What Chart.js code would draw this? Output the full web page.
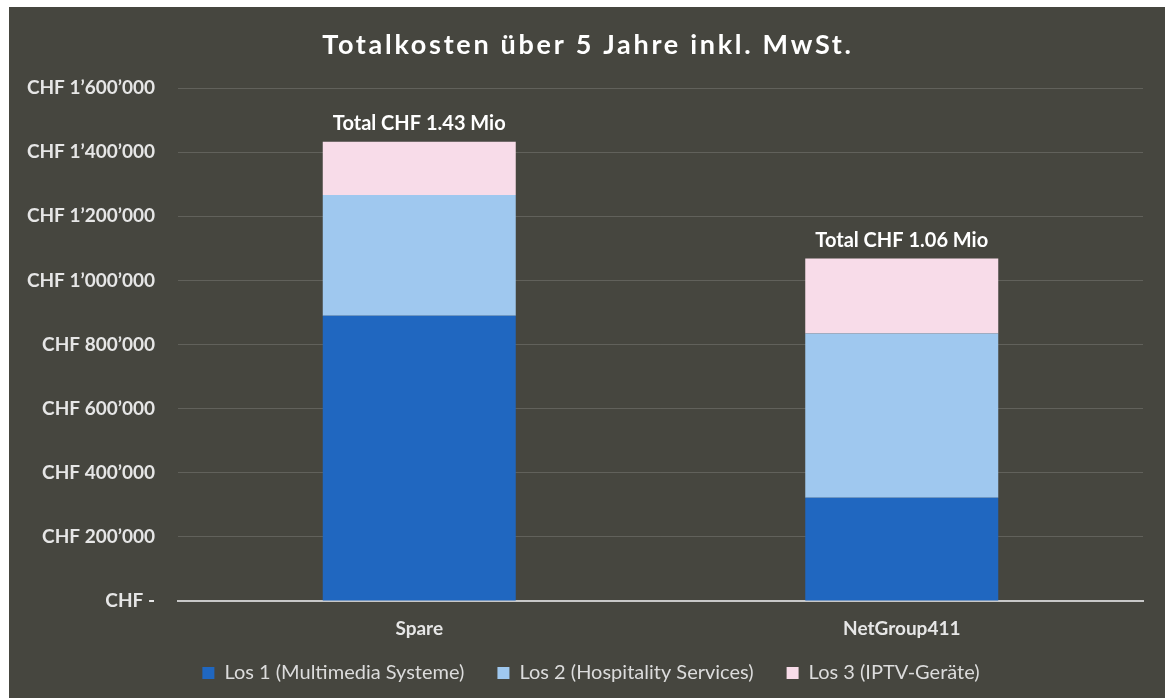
<!DOCTYPE html>
<html>
<head>
<meta charset="utf-8">
<script src="https://cdn.jsdelivr.net/npm/chart.js@4"></script>
<style>
  html, body { margin: 0; padding: 0; background: #ffffff; }
  #wrap { position: absolute; left: 9px; top: 7px; width: 1156px; height: 691px; background: #46463f; }
</style>
</head>
<body>
<div id="wrap"><canvas id="c"></canvas></div>
<script>
const chartTitle = 'Totalkosten über 5 Jahre inkl. MwSt.';
const categories = ['Spare', 'NetGroup411'];
const seriesNames = ['Los 1 (Multimedia Systeme)', 'Los 2 (Hospitality Services)', 'Los 3 (IPTV-Geräte)'];
const los1 = [890000, 322000];
const los2 = [376000, 512000];
const los3 = [166000, 234000];
const tickValues = [0, 200000, 400000, 600000, 800000, 1000000, 1200000, 1400000, 1600000];
const tickLabels = ['CHF -', 'CHF 200’000', 'CHF 400’000', 'CHF 600’000', 'CHF 800’000', 'CHF 1’000’000', 'CHF 1’200’000', 'CHF 1’400’000', 'CHF 1’600’000'];
const totalLabels = ['Total CHF 1.43 Mio', 'Total CHF 1.06 Mio'];

const FONT = 'Lato, "Open Sans", sans-serif';

const titlePlugin = {
  id: 'titlePlugin',
  afterDraw(chart) {
    const ctx = chart.ctx;
    ctx.save();
    ctx.font = 'bold 27px ' + FONT;
    ctx.fillStyle = '#ffffff';
    ctx.textAlign = 'center';
    ctx.textBaseline = 'alphabetic';
    try { ctx.letterSpacing = '2.7px'; } catch (e) {}
    ctx.fillText(chartTitle, chart.width / 2 + 1, 47);
    ctx.restore();
  }
};

const totalsPlugin = {
  id: 'totalsPlugin',
  afterDatasetsDraw(chart) {
    const ctx = chart.ctx;
    const x = chart.scales.x, y = chart.scales.y;
    ctx.save();
    ctx.font = 'bold 20px ' + FONT;
    ctx.fillStyle = '#ffffff';
    ctx.textAlign = 'center';
    ctx.textBaseline = 'alphabetic';
    categories.forEach((c, i) => {
      const total = los1[i] + los2[i] + los3[i];
      ctx.fillText(totalLabels[i], x.getPixelForValue(i), y.getPixelForValue(total) - 12);
    });
    ctx.restore();
  }
};

new Chart(document.getElementById('c'), {
  type: 'bar',
  data: {
    labels: categories,
    datasets: [
      { label: seriesNames[0], data: los1, backgroundColor: '#2067c0' },
      { label: seriesNames[1], data: los2, backgroundColor: '#9fc8ef' },
      { label: seriesNames[2], data: los3, backgroundColor: '#f8dce9' }
    ]
  },
  options: {
    responsive: true,
    maintainAspectRatio: false,
    animation: false,
    barPercentage: 0.4,
    categoryPercentage: 1.0,
    layout: { padding: { top: 81, right: 22, left: 30, bottom: 5 } },
    plugins: {
      title: { display: false },
      tooltip: { enabled: false },
      legend: {
        position: 'bottom',
        labels: {
          color: '#dcdcdc',
          font: { family: FONT, size: 20 },
          boxWidth: 12,
          boxHeight: 12,
          padding: 33
        }
      }
    },
    scales: {
      x: {
        stacked: true,
        afterFit(scale) {
          scale.height = 29;
          scale._computeLabelArea = () => undefined;
        },
        grid: { display: false },
        border: { display: true, color: '#c8c8c8', width: 2 },
        ticks: { color: '#e6e6e6', font: { family: FONT, size: 19, weight: 'bold' }, padding: 8 }
      },
      y: {
        stacked: true,
        min: 0,
        max: 1600000,
        afterFit(scale) {
          scale.width = 139;
          scale._computeLabelArea = () => undefined;
        },
        afterBuildTicks(scale) { scale.ticks = tickValues.map(v => ({ value: v })); },
        grid: {
          color: (ctx) => ctx.tick && ctx.tick.value === 0 ? 'rgba(0,0,0,0)' : 'rgba(255,255,255,0.15)',
          lineWidth: 1,
          drawTicks: false
        },
        border: { display: false },
        ticks: {
          color: '#e6e6e6',
          font: { family: FONT, size: 19, weight: 'bold' },
          padding: 23,
          callback: (v) => tickLabels[tickValues.indexOf(v)]
        }
      }
    }
  },
  plugins: [titlePlugin, totalsPlugin]
});
</script>
</body>
</html>
